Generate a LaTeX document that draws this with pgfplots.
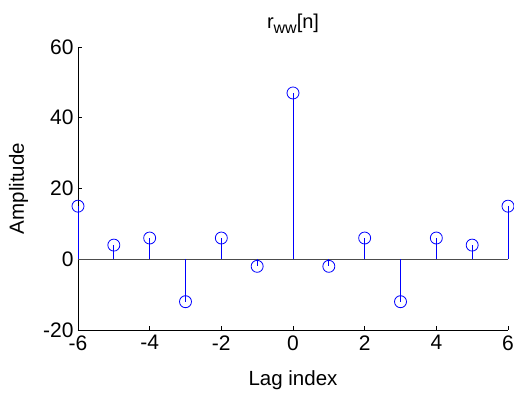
\documentclass[border=0pt]{standalone}
\usepackage{pgfplots}
\pgfplotsset{compat=1.18}
\usepackage{fontspec}
\setmainfont{Liberation Sans}
\definecolor{mblue}{rgb}{0,0,1}
\pgfplotstableread{
x y
-6 15
-5 4
-4 6
-3 -12
-2 6
-1 -2
0 47
1 -2
2 6
3 -12
4 6
5 4
6 15
}\rww
\begin{document}
\begin{tikzpicture}
\begin{axis}[
  scale only axis,
  width=430pt, height=283pt,
  xmin=-6, xmax=6, ymin=-20, ymax=60,
  xtick={-6,-4,...,6}, ytick={-20,0,20,40,60},
  axis x line=bottom, axis y line=left,
  axis line style={-, black, line width=0.6pt},
  tick align=inside, major tick length=4pt,
  tick style={black, line width=0.6pt},
  /pgf/number format/assume math mode=true,
  ticklabel style={font=\fontsize{21}{21}\selectfont},
  xticklabel style={yshift=-2pt},
  yticklabel style={xshift=-1pt},
  xlabel={Lag index}, ylabel={Amplitude},
  label style={font=\fontsize{20.5}{20.5}\selectfont},
  xlabel style={yshift=-13pt},
  ylabel style={yshift=8pt},
  title={r\raisebox{-5pt}{\fontsize{16}{16}\selectfont ww}[n]},
  title style={font=\fontsize{20}{20}\selectfont, yshift=4pt},
  clip=false,
]
\path (rel axis cs:0,0) ++(-78pt,-63pt) coordinate (bl);
\path (rel axis cs:1,1) ++(6pt,47pt) coordinate (tr);
\addplot[black!70, line width=0.7pt, forget plot] coordinates {(-6,0) (6,0)};
\addplot[draw=mblue, ycomb, no marks, line width=0.9pt] table[x=x, y=y] {\rww};
\addplot[only marks, mark=o, mark size=6pt, mark options={draw=mblue, fill=none, line width=0.8pt}] table[x=x, y=y] {\rww};
\end{axis}
\pgfresetboundingbox
\useasboundingbox (bl) rectangle (tr);
\end{tikzpicture}
\end{document}
